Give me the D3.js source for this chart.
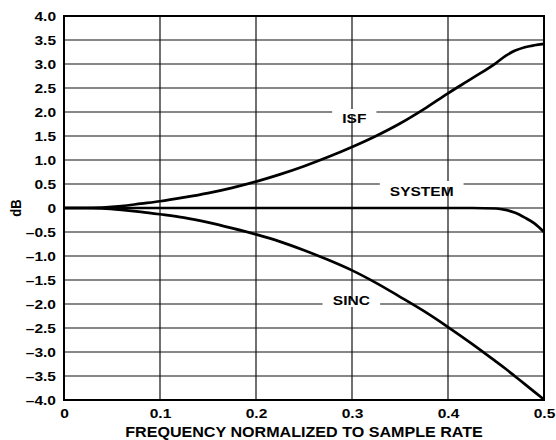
<!DOCTYPE html>
<html><head><meta charset="utf-8">
<script src="https://cdn.jsdelivr.net/npm/d3@7"></script>
<style>
body{margin:0;background:#fff;}
svg text{font-family:"Liberation Sans",Arial,Helvetica,sans-serif;font-weight:bold;fill:#000;}
</style></head>
<body><svg id="c" width="556" height="440"></svg>
<script>
const freq = [0, 0.02, 0.04, 0.06, 0.08, 0.1, 0.125, 0.15, 0.175, 0.2, 0.225, 0.25, 0.275, 0.3, 0.325, 0.35, 0.375, 0.4, 0.425, 0.45, 0.46, 0.47, 0.48, 0.49, 0.5];
const isf = [0, 0, 0.01, 0.04, 0.09, 0.14, 0.22, 0.31, 0.42, 0.55, 0.7, 0.87, 1.06, 1.27, 1.5, 1.76, 2.06, 2.39, 2.7, 3.02, 3.17, 3.28, 3.35, 3.39, 3.42];
const sinc = [0, 0, -0.01, -0.04, -0.08, -0.13, -0.2, -0.3, -0.42, -0.55, -0.7, -0.88, -1.08, -1.3, -1.56, -1.85, -2.15, -2.48, -2.83, -3.2, -3.35, -3.51, -3.67, -3.83, -3.99];
const system = [0, 0, 0, 0, 0, 0, 0, 0, 0, 0, 0, 0, 0, 0, 0, 0, 0, 0, 0, -0.01, -0.04, -0.1, -0.2, -0.32, -0.5];
const xTicks = [0, 0.1, 0.2, 0.3, 0.4, 0.5];
const yTicks = [4.0, 3.5, 3.0, 2.5, 2.0, 1.5, 1.0, 0.5, 0, -0.5, -1.0, -1.5, -2.0, -2.5, -3.0, -3.5, -4.0];
const labelNames = ["ISF", "SYSTEM", "SINC"];
const labelFreq = [0.3024, 0.3726, 0.2993];
const labelDb = [1.77, 0.25, -2.03];
const gridGapDb = [2.0, 0.5, -2.0];

const SX = 1.15; // horizontal stretch of the lettering
const svg = d3.select("#c");
const L = 64, R = 544, T = 16, B = 400;
const x = d3.scaleLinear().domain([0, 0.5]).range([L, R]);
const y = d3.scaleLinear().domain([-4, 4]).range([B, T]);

// grid
const g = svg.append("g");
g.selectAll(".hg").data(yTicks.slice(1, -1)).join("line")
  .attr("x1", L).attr("x2", R).attr("y1", d => y(d)).attr("y2", d => y(d))
  .attr("stroke", "#111").attr("stroke-width", 1.2);
g.selectAll(".vg").data(xTicks.slice(1, -1)).join("line")
  .attr("y1", T).attr("y2", B).attr("x1", d => x(d)).attr("x2", d => x(d))
  .attr("stroke", "#111").attr("stroke-width", 1.2);

// curve labels with gaps in the grid line
const lab = svg.append("g");
labelNames.forEach((name, i) => {
  const t = lab.append("text")
    .attr("transform", `translate(${x(labelFreq[i])},${y(labelDb[i])}) scale(${SX},1)`)
    .attr("text-anchor", "middle").style("font-size", "13.5px").text(name);
  const w = t.node().getBBox().width * SX;
  lab.insert("rect", "text").attr("x", x(labelFreq[i]) - w / 2 - 10).attr("y", y(gridGapDb[i]) - 3)
    .attr("width", w + 20).attr("height", 6).attr("fill", "#fff");
});

// curves
const line = d3.line().x((d, i) => x(freq[i])).y(d => y(d)).curve(d3.curveMonotoneX);
[isf, sinc, system].forEach(s => {
  svg.append("path").attr("d", line(s)).attr("fill", "none")
    .attr("stroke", "#000").attr("stroke-width", 2.7).attr("stroke-linejoin", "round");
});

// frame
svg.append("rect").attr("x", L).attr("y", T).attr("width", R - L).attr("height", B - T)
  .attr("fill", "none").attr("stroke", "#000").attr("stroke-width", 2);

function stretch(sel) {
  sel.each(function () {
    const t = d3.select(this);
    const xx = +(t.attr("x") || 0);
    t.attr("x", xx / SX).attr("transform", `scale(${SX},1)`)
      .attr("font-family", null).attr("font-size", null).style("font-size", "13.5px");
  });
}

// axes
const yAxis = d3.axisLeft(y).tickValues(yTicks).tickSize(0).tickPadding(8)
  .tickFormat(d => d === 0 ? "0" : (d < 0 ? "\u2013" : "") + d3.format(".1f")(Math.abs(d)));
const ya = svg.append("g").attr("transform", `translate(${L},0)`).call(yAxis);
ya.select(".domain").remove();
ya.selectAll("text").attr("dy", "0.36em").call(stretch);

const xAxis = d3.axisBottom(x).tickValues(xTicks).tickSize(0).tickPadding(8)
  .tickFormat(d => d === 0 ? "0" : d3.format(".1f")(d));
const xa = svg.append("g").attr("transform", `translate(0,${B})`).call(xAxis);
xa.select(".domain").remove();
xa.selectAll("text").call(stretch);

svg.append("text").attr("transform", `translate(${(L + R) / 2},437) scale(${SX},1)`)
  .attr("text-anchor", "middle").style("font-size", "14px").text("FREQUENCY NORMALIZED TO SAMPLE RATE");
svg.append("text").attr("transform", `translate(20.5,${y(0)}) scale(${SX},1) rotate(-90)`)
  .attr("text-anchor", "middle").style("font-size", "13px").text("dB");
</script></body></html>
